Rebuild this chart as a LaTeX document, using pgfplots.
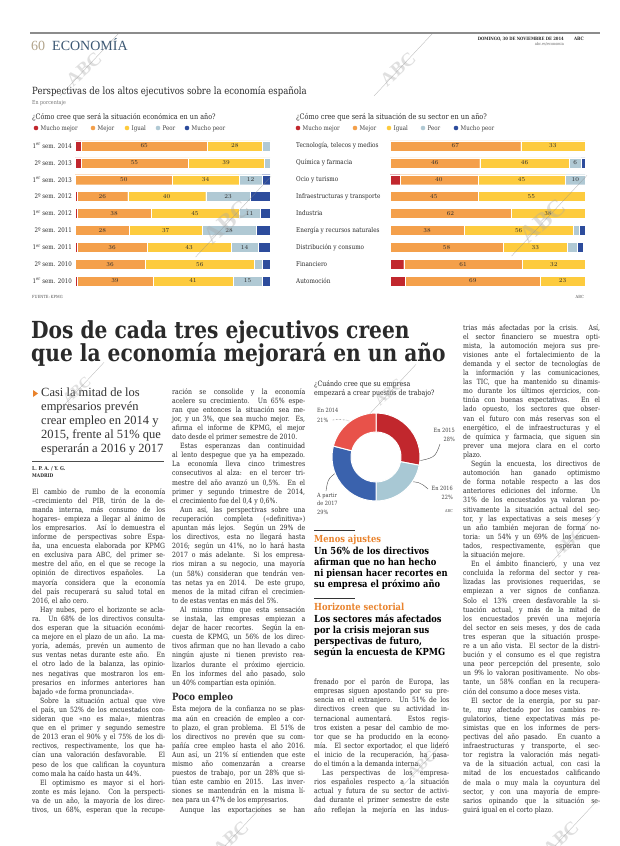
\documentclass[border=0pt]{standalone}
\usepackage{fontspec}
\usepackage{graphicx}
\usepackage{pgfplots}
\usepackage{pgfplotstable}
\pgfplotsset{compat=1.18}
\setmainfont{DejaVu Serif}[FakeStretch=0.86]
\newfontfamily\lib{Liberation Serif}
\definecolor{cMM}{HTML}{C1272D}
\definecolor{cMej}{HTML}{F4A04B}
\definecolor{cIg}{HTML}{FDCB3E}
\definecolor{cPe}{HTML}{B0C9D4}
\definecolor{cMP}{HTML}{2D4C9C}
\definecolor{c14}{HTML}{E8524A}
\definecolor{c15}{HTML}{C1272D}
\definecolor{c16}{HTML}{A8C8D4}
\definecolor{c17}{HTML}{3A62AD}
\definecolor{txt}{HTML}{2A2A2A}
\definecolor{numc}{HTML}{B3A58C}
\definecolor{secc}{HTML}{3B5773}
\definecolor{orng}{HTML}{E9822B}
\newcommand\fs[2]{\fontsize{#1}{#2}\selectfont}
\newcommand\J[1]{\setbox0=\hbox{#1}\ifdim\wd0>\hsize\pgfmathsetmacro\rr{\hsize/\wd0}\hbox to\hsize{\scalebox{\rr}[1]{\box0}}\else\hbox to\hsize{#1}\fi}
\newcommand\E[1]{\hbox{#1}}
\newcommand\I{\hskip 8pt}
\newcommand\body{\fs{7.2}{9.1}}
\newcommand\stamp[3]{\draw[black!45, line width=0.35pt, opacity=0.6] ({#1-28*#3},{#2+30*#3}) -- ({#1+30*#3},{#2-32*#3});
  \node[rotate=42, text=black!35, opacity=0.35] at (#1-4*#3,#2+3*#3) {\lib\fs{19}{19}\bfseries\scalebox{#3}{ABC}};}

\pgfplotstableread{
idx mm mej ig pe mp
0 3 65 28 4 0
1 3 55 39 3 0
2 0 50 34 12 4
3 1 26 40 23 10
4 1 38 45 11 5
5 0 28 37 28 7
6 1 36 43 14 6
7 0 36 56 4 4
8 1 39 41 15 4
}\econ
\pgfplotstableread{
idx mm mej ig pe mp
0 0 67 33 0 0
1 0 46 46 6 2
2 5 40 45 10 0
3 0 45 55 0 0
4 0 62 38 0 0
5 0 38 56 3 3
6 0 58 33 5 3
7 7 61 32 0 0
8 8 69 23 0 0
}\sect
\pgfplotstableread{
v
28
22
29
21
}\donut

\pgfplotsset{
 barchart/.style={scale only axis, width=195pt, height=152pt, xbar stacked, bar width=10pt,
   xmin=0, xmax=100, ymin=-0.5, ymax=8.5, y dir=reverse, separate axis lines,
   axis line style={draw=none}, xtick=\empty, ytick={0,...,8}, major tick length=0pt, clip=false,
   every axis plot/.append style={draw=white, line width=0.3pt}},
 labaxis/.style={scale only axis, width=195pt, height=152pt, xmin=0, xmax=100,
   ymin=-0.5, ymax=8.5, y dir=reverse, hide axis, clip=false},
 lab/.style={only marks, mark=none, visualization depends on={\thisrow{#1}\as\segv},
   nodes near coords={\ifdim\segv pt<5.5pt\else\pgfmathprintnumber{\segv}\fi},
   every node near coord/.append style={anchor=center, inner sep=0pt,
     font=\fs{6}{6}\bfseries, text=txt}},
}

\begin{document}
\begin{tikzpicture}
\fill[white] (0,0) rectangle (620pt,-846pt);
\path[use as bounding box] (0,0) rectangle (620pt,-846pt);
\begin{scope}[x=1pt,y=-1pt, every node/.style={inner sep=0pt, text=txt}]
% header
\draw[black!45, line width=1.1pt] (30,33) -- (600,33);
\node[anchor=base west, text=numc] at (31,50) {\lib\fs{14}{14}60};
\node[anchor=base west, text=secc] at (52,50) {\lib\fs{14}{14}ECONOMÍA};
\node[anchor=base east] at (564,40) {\fs{4.4}{5}\bfseries DOMINGO, 30 DE NOVIEMBRE DE 2014};
\node[anchor=base east] at (584,40) {\fs{4.6}{5}\bfseries ABC};
\node[anchor=base east, text=black!60] at (564,45.5) {\fs{4}{5}abc.es/economia};
% chart titles
\node[anchor=base west] at (32,94.5) {\fs{9.9}{10}Perspectivas de los altos ejecutivos sobre la economía española};
\node[anchor=base west, text=black!55] at (32,104.5) {\fs{5.5}{6}En porcentaje};
\node[anchor=base west] at (32,119) {\fs{7.5}{8}¿Cómo cree que será la situación económica en un año?};
\node[anchor=base west] at (296,119) {\fs{7.6}{8}¿Cómo cree que será la situación de su sector en un año?};
% legends
\foreach \x/\cc/\t in {36/cMM/Mucho mejor, 93/cMej/Mejor, 127/cIg/Igual, 158/cPe/Peor, 187/cMP/Mucho peor,
                      298/cMM/Mucho mejor, 355/cMej/Mejor, 389/cIg/Igual, 423/cPe/Peor, 456/cMP/Mucho peor}{
  \fill[\cc] (\x,128) circle (2.3pt);
  \node[anchor=base west, text=black!75] at (\x+4.5,130.3) {\fs{6.4}{7}\t};
}
\node[anchor=base west, text=black!70] at (32,298.5) {\fs{4.2}{5}FUENTE: KPMG};
\node[anchor=base east, text=black!70] at (584,298.5) {\fs{4.2}{5}ABC};
% headline
\node[anchor=base west] at (31,338) {\fs{23.5}{23}\bfseries Dos de cada tres ejecutivos creen};
\node[anchor=base west] at (31,361) {\fs{23.5}{23}\bfseries que la economía mejorará en un año};
% deck
\fill[orng] (33,390) -- (38,393.5) -- (33,397) -- cycle;
\node[anchor=base west, text=black!80] at (41,396) {\lib\fs{12.5}{14}\vtop{\baselineskip=14pt
 \hbox{Casi la mitad de los}\hbox{empresarios prevén}\hbox{crear empleo en 2014 y}\hbox{2015, frente al 51\% que}\hbox{esperarán a 2016 y 2017}}};
\draw[black!70, line width=0.5pt] (32,461) -- (164,461);
\node[anchor=base west] at (32,470) {\fs{5.3}{6}\bfseries L. P. A. / Y. G.};
\node[anchor=base west] at (32,477.5) {\fs{5}{6}\bfseries MADRID};
% column 1
\node[anchor=base west] at (32,494) {\body\vtop{\hsize=133pt
\J{El cambio de rumbo de la economía}
\J{–crecimiento del PIB, tirón de la de-}
\J{manda interna, más consumo de los}
\J{hogares– empieza a llegar al ánimo de}
\J{los empresarios. Así lo demuestra el}
\J{informe de perspectivas sobre Espa-}
\J{ña, una encuesta elaborada por KPMG}
\J{en exclusiva para ABC, del primer se-}
\J{mestre del año, en el que se recoge la}
\J{opinión de directivos españoles. La}
\J{mayoría considera que la economía}
\J{del país recuperará su salud total en}
\E{2016, el año cero.}
\J{\I Hay nubes, pero el horizonte se acla-}
\J{ra. Un 68\% de los directivos consulta-}
\J{dos esperan que la situación económi-}
\J{ca mejore en el plazo de un año. La ma-}
\J{yoría, además, prevén un aumento de}
\J{sus ventas netas durante este año. En}
\J{el otro lado de la balanza, las opinio-}
\J{nes negativas que mostraron los em-}
\J{presarios en informes anteriores han}
\E{bajado «de forma pronunciada».}
\J{\I Sobre la situación actual que vive}
\J{el país, un 52\% de los encuestados con-}
\J{sideran que «no es mala», mientras}
\J{que en el primer y segundo semestre}
\J{de 2013 eran el 90\% y el 75\% de los di-}
\J{rectivos, respectivamente, los que ha-}
\J{cían una valoración desfavorable. El}
\J{peso de los que califican la coyuntura}
\E{como mala ha caído hasta un 44\%.}
\J{\I El optimismo es mayor si el hori-}
\J{zonte es más lejano. Con la perspecti-}
\J{va de un año, la mayoría de los direc-}
\J{tivos, un 68\%, esperan que la recupe-}
}};
% column 2
\node[anchor=base west] at (172,394) {\body\vtop{\hsize=133pt
\J{ración se consolide y la economía}
\J{acelere su crecimiento. Un 65\% espe-}
\J{ran que entonces la situación sea me-}
\J{jor, y un 3\%, que sea mucho mejor. Es,}
\J{afirma el informe de KPMG, el mejor}
\E{dato desde el primer semestre de 2010.}
\J{\I Estas esperanzas dan continuidad}
\J{al lento despegue que ya ha empezado.}
\J{La economía lleva cinco trimestres}
\J{consecutivos al alza: en el tercer tri-}
\J{mestre del año avanzó un 0,5\%. En el}
\J{primer y segundo trimestre de 2014,}
\E{el crecimiento fue del 0,4 y 0,6\%.}
\J{\I Aun así, las perspectivas sobre una}
\J{recuperación completa («definitiva»)}
\J{apuntan más lejos. Según un 29\% de}
\J{los directivos, esta no llegará hasta}
\J{2016; según un 41\%, no lo hará hasta}
\J{2017 o más adelante. Si los empresa-}
\J{rios miran a su negocio, una mayoría}
\J{(un 58\%) consideran que tendrán ven-}
\J{tas netas ya en 2014. De este grupo,}
\J{menos de la mitad cifran el crecimien-}
\E{to de estas ventas en más del 5\%.}
\J{\I Al mismo ritmo que esta sensación}
\J{se instala, las empresas empiezan a}
\J{dejar de hacer recortes. Según la en-}
\J{cuesta de KPMG, un 56\% de los direc-}
\J{tivos afirman que no han llevado a cabo}
\J{ningún ajuste ni tienen previsto rea-}
\J{lizarlos durante el próximo ejercicio.}
\J{En los informes del año pasado, solo}
\E{un 40\% compartían esta opinión.}
}};
\node[anchor=base west] at (172,700) {\fs{10}{11}\bfseries Poco empleo};
\node[anchor=base west] at (172,711.9) {\body\vtop{\hsize=133pt
\J{Esta mejora de la confianza no se plas-}
\J{ma aún en creación de empleo a cor-}
\J{to plazo, el gran problema. El 51\% de}
\J{los directivos no prevén que su com-}
\J{pañía cree empleo hasta el año 2016.}
\J{Aun así, un 21\% sí entienden que este}
\J{mismo año comenzarán a crearse}
\J{puestos de trabajo, por un 28\% que si-}
\J{túan este cambio en 2015. Las inver-}
\J{siones se mantendrán en la misma lí-}
\E{nea para un 47\% de los empresarios.}
\J{\I Aunque las exportaciones se han}
}};
% column 3 text
\node[anchor=base west] at (314,386) {\fs{7.3}{9}\vtop{\baselineskip=9.6pt\hbox{¿Cuándo cree que su empresa}\hbox{empezará a crear puestos de trabajo?}}};
\draw[black!80, line width=0.8pt] (314,530) -- (355,530);
\node[anchor=base west, text=orng] at (314,542) {\fs{9.7}{11}\bfseries Menos ajustes};
\node[anchor=base west, text=black] at (314,554) {\fs{9.7}{11}\bfseries\vtop{\baselineskip=11pt
 \hbox{Un 56\% de los directivos}\hbox{afirman que no han hecho}\hbox{ni piensan hacer recortes en}\hbox{su empresa el próximo año}}};
\draw[black!80, line width=0.8pt] (314,598) -- (355,598);
\node[anchor=base west, text=orng] at (314,610) {\fs{9.7}{11}\bfseries Horizonte sectorial};
\node[anchor=base west, text=black] at (314,622) {\fs{9.7}{11}\bfseries\vtop{\baselineskip=11pt
 \hbox{Los sectores más afectados}\hbox{por la crisis mejoran sus}\hbox{perspectivas de futuro,}\hbox{según la encuesta de KPMG}}};
\node[anchor=base west] at (314,684.6) {\body\vtop{\hsize=135pt
\J{frenado por el parón de Europa, las}
\J{empresas siguen apostando por su pre-}
\J{sencia en el extranjero. Un 51\% de los}
\J{directivos creen que su actividad in-}
\J{ternacional aumentará. Estos regis-}
\J{tros existen a pesar del cambio de mo-}
\J{tor que se ha producido en la econo-}
\J{mía. El sector exportador, el que lideró}
\J{el inicio de la recuperación, ha pasa-}
\E{do el timón a la demanda interna.}
\J{\I Las perspectivas de los empresa-}
\J{rios españoles respecto a la situación}
\J{actual y futura de su sector de activi-}
\J{dad durante el primer semestre de este}
\J{año reflejan la mejoría en las indus-}
}};
% column 4
\node[anchor=base west] at (463,330) {\body\vtop{\hsize=137pt
\J{trias más afectadas por la crisis. Así,}
\J{el sector financiero se muestra opti-}
\J{mista, la automoción mejora sus pre-}
\J{visiones ante el fortalecimiento de la}
\J{demanda y el sector de tecnologías de}
\J{la información y las comunicaciones,}
\J{las TIC, que ha mantenido su dinamis-}
\J{mo durante los últimos ejercicios, con-}
\J{tinúa con buenas expectativas. En el}
\J{lado opuesto, los sectores que obser-}
\J{van el futuro con más reservas son el}
\J{energético, el de infraestructuras y el}
\J{de química y farmacia, que siguen sin}
\J{prever una mejora clara en el corto}
\E{plazo.}
\J{\I Según la encuesta, los directivos de}
\J{automoción han ganado optimismo}
\J{de forma notable respecto a las dos}
\J{anteriores ediciones del informe. Un}
\J{31\% de los encuestados ya valoran po-}
\J{sitivamente la situación actual del sec-}
\J{tor, y las expectativas a seis meses y}
\J{un año también mejoran de forma no-}
\J{toria: un 54\% y un 69\% de los encuen-}
\J{tados, respectivamente, esperan que}
\E{la situación mejore.}
\J{\I En el ámbito financiero, y una vez}
\J{concluida la reforma del sector y rea-}
\J{lizadas las provisiones requeridas, se}
\J{empiezan a ver signos de confianza.}
\J{Solo el 13\% creen desfavorable la si-}
\J{tuación actual, y más de la mitad de}
\J{los encuestados prevén una mejoría}
\J{del sector en seis meses, y dos de cada}
\J{tres esperan que la situación prospe-}
\J{re a un año vista. El sector de la distri-}
\J{bución y el consumo es el que registra}
\J{una peor percepción del presente, solo}
\J{un 9\% lo valoran positivamente. No obs-}
\J{tante, un 58\% confían en la recupera-}
\E{ción del consumo a doce meses vista.}
\J{\I El sector de la energía, por su par-}
\J{te, muy afectado por los cambios re-}
\J{gulatorios, tiene expectativas más pe-}
\J{simistas que en los informes de pers-}
\J{pectivas del año pasado. En cuanto a}
\J{infraestructuras y transporte, el sec-}
\J{tor registra la valoración más negati-}
\J{va de la situación actual, con casi la}
\J{mitad de los encuestados calificando}
\J{de mala o muy mala la coyuntura del}
\J{sector, y con una mayoría de empre-}
\J{sarios opinando que la situación se-}
\E{guirá igual en el corto plazo.}
}};
% donut labels
\node[anchor=base west, text=black!75] at (317,412) {\fs{5.8}{6}En 2014};
\node[anchor=base west, text=black!75] at (317,422) {\fs{5.8}{6}21\%};
\draw[black!70, densely dotted, line width=0.4pt] (332,420) .. controls (345,419) .. (362,426);
\node[anchor=base east, text=black!75] at (455,432) {\fs{5.8}{6}En 2015};
\node[anchor=base east, text=black!75] at (455,441.5) {\fs{5.8}{6}28\%};
\draw[black!70, line width=0.4pt] (440,444) .. controls (435,458) .. (412,462);
\node[anchor=base east, text=black!75] at (453,490) {\fs{5.8}{6}En 2016};
\node[anchor=base east, text=black!75] at (453,499) {\fs{5.8}{6}22\%};
\draw[black!70, line width=0.4pt] (428,489) .. controls (420,482) .. (402,481);
\node[anchor=base west, text=black!75] at (317,497) {\fs{5.8}{6}A partir};
\node[anchor=base west, text=black!75] at (317,505) {\fs{5.8}{6}de 2017};
\node[anchor=base west, text=black!75] at (317,514) {\fs{5.8}{6}29\%};
\draw[black!70, line width=0.4pt] (326,491) .. controls (328,478) .. (343,468);
\node[anchor=base east, text=black!70] at (453,512) {\fs{4}{5}ABC};
\end{scope}

% ---------- left bar chart
\begin{axis}[barchart, at={(75pt,-137.5pt)}, anchor=north west,
  yticklabels={1\textsuperscript{er} sem. 2014, 2º sem. 2013, 1\textsuperscript{er} sem. 2013, 2º sem. 2012, 1\textsuperscript{er} sem. 2012, 2º sem. 2011, 1\textsuperscript{er} sem. 2011, 2º sem. 2010, 1\textsuperscript{er} sem. 2010},
  yticklabel style={font=\fs{6.4}{7}, text=txt, anchor=east, inner sep=0pt, xshift=-3pt}]
\addplot[fill=cMM] table[x=mm, y=idx] {\econ};
\addplot[fill=cMej] table[x=mej, y=idx] {\econ};
\addplot[fill=cIg] table[x=ig, y=idx] {\econ};
\addplot[fill=cPe] table[x=pe, y=idx] {\econ};
\addplot[fill=cMP] table[x=mp, y=idx] {\econ};
\end{axis}
\begin{axis}[labaxis, at={(75pt,-137.5pt)}, anchor=north west]
\addplot[lab=mej] table[x expr=\thisrow{mm}+0.5*\thisrow{mej}, y=idx] {\econ};
\addplot[lab=ig] table[x expr=\thisrow{mm}+\thisrow{mej}+0.5*\thisrow{ig}, y=idx] {\econ};
\addplot[lab=pe] table[x expr=\thisrow{mm}+\thisrow{mej}+\thisrow{ig}+0.5*\thisrow{pe}, y=idx] {\econ};
\end{axis}

% ---------- right bar chart
\begin{axis}[barchart, at={(390pt,-137.5pt)}, anchor=north west,
  yticklabels={{Tecnología, telecos y medios}, Química y farmacia, Ocio y turismo, Infraestructuras y transporte, Industria, Energía y recursos naturales, Distribución y consumo, Financiero, Automoción},
  yticklabel style={font=\fs{6.6}{7}, text=txt, anchor=west, inner sep=0pt, xshift=-94pt}]
\addplot[fill=cMM] table[x=mm, y=idx] {\sect};
\addplot[fill=cMej] table[x=mej, y=idx] {\sect};
\addplot[fill=cIg] table[x=ig, y=idx] {\sect};
\addplot[fill=cPe] table[x=pe, y=idx] {\sect};
\addplot[fill=cMP] table[x=mp, y=idx] {\sect};
\end{axis}
\begin{axis}[labaxis, at={(390pt,-137.5pt)}, anchor=north west]
\addplot[lab=mej] table[x expr=\thisrow{mm}+0.5*\thisrow{mej}, y=idx] {\sect};
\addplot[lab=ig] table[x expr=\thisrow{mm}+\thisrow{mej}+0.5*\thisrow{ig}, y=idx] {\sect};
\addplot[lab=pe] table[x expr=\thisrow{mm}+\thisrow{mej}+\thisrow{ig}+0.5*\thisrow{pe}, y=idx] {\sect};
\end{axis}

% ---------- donut
\pgfplotstablegetelem{0}{v}\of\donut \let\dA\pgfplotsretval
\pgfplotstablegetelem{1}{v}\of\donut \let\dB\pgfplotsretval
\pgfplotstablegetelem{2}{v}\of\donut \let\dC\pgfplotsretval
\pgfplotstablegetelem{3}{v}\of\donut \let\dD\pgfplotsretval
\pgfmathsetmacro\aA{90}
\pgfmathsetmacro\aB{\aA-3.6*\dA}
\pgfmathsetmacro\aC{\aB-3.6*\dB}
\pgfmathsetmacro\aD{\aC-3.6*\dC}
\pgfmathsetmacro\aE{\aD-3.6*\dD}
\begin{axis}[at={(376pt,-457pt)}, anchor=origin, hide axis, x=1pt, y=1pt,
  xmin=-50, xmax=50, ymin=-50, ymax=50, clip=false]
\addplot[draw=none, forget plot] coordinates {(0,0)};
\fill[c15, draw=white, line width=1pt] ([shift={(\aA:44pt)}]axis cs:0,0) arc[start angle=\aA, end angle=\aB, radius=44pt] -- ([shift={(\aB:25pt)}]axis cs:0,0) arc[start angle=\aB, end angle=\aA, radius=25pt] -- cycle;
\fill[c16, draw=white, line width=1pt] ([shift={(\aB:44pt)}]axis cs:0,0) arc[start angle=\aB, end angle=\aC, radius=44pt] -- ([shift={(\aC:25pt)}]axis cs:0,0) arc[start angle=\aC, end angle=\aB, radius=25pt] -- cycle;
\fill[c17, draw=white, line width=1pt] ([shift={(\aC:44pt)}]axis cs:0,0) arc[start angle=\aC, end angle=\aD, radius=44pt] -- ([shift={(\aD:25pt)}]axis cs:0,0) arc[start angle=\aD, end angle=\aC, radius=25pt] -- cycle;
\fill[c14, draw=white, line width=1pt] ([shift={(\aD:44pt)}]axis cs:0,0) arc[start angle=\aD, end angle=\aE, radius=44pt] -- ([shift={(\aE:25pt)}]axis cs:0,0) arc[start angle=\aE, end angle=\aD, radius=25pt] -- cycle;
\end{axis}

% ---------- faint page watermarks
\begin{scope}[x=1pt,y=-1pt]
\stamp{88}{66}{1}
\stamp{402}{66}{1}
\stamp{232}{218}{1.3}
\stamp{548}{217}{1.3}
\stamp{80}{388}{0.8}
\stamp{392}{390}{0.8}
\stamp{425}{762}{0.8}
\stamp{572}{540}{0.9}
\stamp{235}{835}{1}
\stamp{565}{835}{1}
\end{scope}
\end{tikzpicture}
\end{document}
